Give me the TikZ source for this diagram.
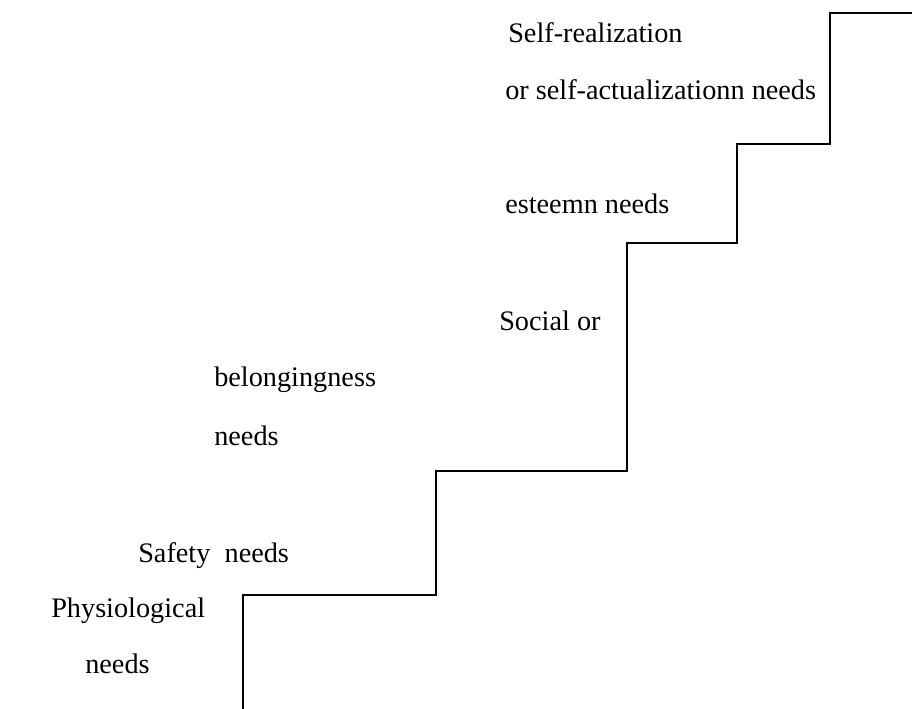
\documentclass[tikz,border=0pt]{standalone}
\usepackage{fontspec}
\setmainfont{Liberation Serif}
\begin{document}
\begin{tikzpicture}[x=0.75pt,y=-0.75pt,
  lbl/.style={anchor=base west,inner sep=0pt,font=\fontsize{21.2}{25}\selectfont},
  stair/.style={line width=1.5pt,line join=miter}]
\useasboundingbox (0,0) rectangle (912,708);
\coordinate (s0) at (243,709);
\coordinate (s1) at (243,595);
\coordinate (s2) at (436,595);
\coordinate (s3) at (436,471);
\coordinate (s4) at (627,471);
\coordinate (s5) at (627,243);
\coordinate (s6) at (737,243);
\coordinate (s7) at (737,144);
\coordinate (s8) at (830,144);
\coordinate (s9) at (830,13);
\coordinate (s10) at (913,13);
\draw[stair] (s0) -- (s1) -- (s2) -- (s3) -- (s4) -- (s5) -- (s6) -- (s7) -- (s8) -- (s9) -- (s10);
\node[lbl] (t1) at (508,42) {Self-realization};
\node[lbl] (t2) at (505,99) {or self-actualizationn needs};
\node[lbl] (t3) at (505,213) {esteemn needs};
\node[lbl] (t4) at (499,330) {Social or};
\node[lbl] (t5) at (214,386) {belongingness};
\node[lbl] (t6) at (214,445) {needs};
\node[lbl] (t7) at (138,562) {Safety\ \ needs};
\node[lbl] (t8) at (51,617) {Physiological};
\node[lbl] (t9) at (85,673) {needs};
\end{tikzpicture}
\end{document}
